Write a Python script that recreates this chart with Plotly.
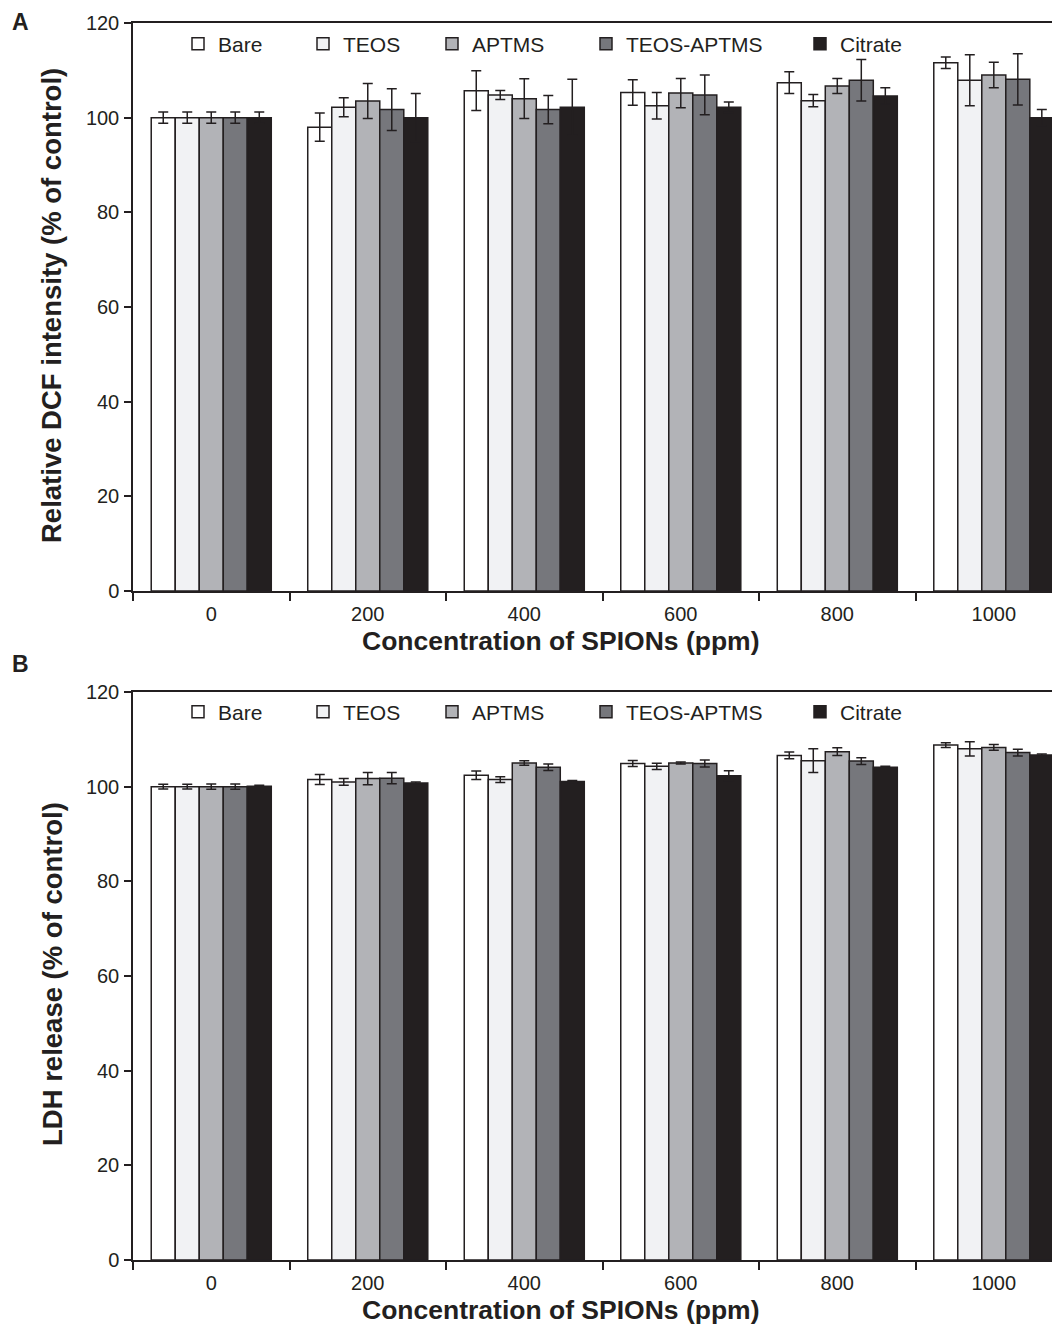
import plotly.graph_objects as go

categories = ["0", "200", "400", "600", "800", "1000"]
series_names = ["Bare", "TEOS", "APTMS", "TEOS-APTMS", "Citrate"]
colors = ["#ffffff", "#f1f2f4", "#b2b3b7", "#76777c", "#231f20"]

# Panel A: Relative DCF intensity (% of control)
dcf_bare = [100.0, 98.0, 105.7, 105.3, 107.4, 111.6]
dcf_teos = [100.0, 102.2, 104.8, 102.5, 103.6, 107.9]
dcf_aptms = [100.0, 103.5, 104.0, 105.2, 106.7, 109.0]
dcf_teos_aptms = [100.0, 101.7, 101.7, 104.8, 107.9, 108.1]
dcf_citrate = [100.0, 100.0, 102.2, 102.2, 104.6, 100.0]
dcf_bare_err = [1.2, 3.0, 4.2, 2.7, 2.3, 1.2]
dcf_teos_err = [1.2, 2.0, 0.95, 2.8, 1.3, 5.4]
dcf_aptms_err = [1.2, 3.7, 4.2, 3.1, 1.6, 2.7]
dcf_teos_aptms_err = [1.2, 4.4, 3.0, 4.2, 4.4, 5.4]
dcf_citrate_err = [1.2, 5.1, 5.9, 1.1, 1.7, 1.7]

# Panel B: LDH release (% of control)
ldh_bare = [100.0, 101.5, 102.4, 104.9, 106.6, 108.8]
ldh_teos = [100.0, 101.0, 101.5, 104.3, 105.5, 108.0]
ldh_aptms = [100.0, 101.7, 105.0, 105.0, 107.4, 108.3]
ldh_teos_aptms = [100.0, 101.8, 104.1, 104.9, 105.4, 107.2]
ldh_citrate = [100.1, 100.8, 101.1, 102.3, 104.1, 106.7]
ldh_bare_err = [0.5, 1.05, 0.9, 0.65, 0.7, 0.5]
ldh_teos_err = [0.5, 0.7, 0.6, 0.65, 2.5, 1.5]
ldh_aptms_err = [0.55, 1.3, 0.5, 0.2, 0.8, 0.6]
ldh_teos_aptms_err = [0.55, 1.2, 0.7, 0.75, 0.7, 0.7]
ldh_citrate_err = [0.2, 0.2, 0.2, 1.05, 0.2, 0.2]

y_ticks = [0, 20, 40, 60, 80, 100, 120]
y_title_a = "Relative DCF intensity (% of control)"
y_title_b = "LDH release (% of control)"
x_title = "Concentration of SPIONs (ppm)"

dcf_vals = [dcf_bare, dcf_teos, dcf_aptms, dcf_teos_aptms, dcf_citrate]
dcf_errs = [dcf_bare_err, dcf_teos_err, dcf_aptms_err, dcf_teos_aptms_err, dcf_citrate_err]
ldh_vals = [ldh_bare, ldh_teos, ldh_aptms, ldh_teos_aptms, ldh_citrate]
ldh_errs = [ldh_bare_err, ldh_teos_err, ldh_aptms_err, ldh_teos_aptms_err, ldh_citrate_err]

INK = "#231f20"
FONT = "Liberation Sans, Arial, sans-serif"

OFF = 8  # page body margin offset
W, H = 1052, 1320
ML, MR, MT, MB = 125, 0, 15, 68
PW = W - ML - MR
PH = H - MT - MB


def px_x(p):
    # screen pixel -> paper x
    return (p - OFF - ML) / PW


def px_y(p):
    # screen pixel -> paper y
    return (H - MB - (p - OFF)) / PH


fig = go.Figure()

legend_centers = [198, 323, 452, 606, 820]  # symbol centers (screen px)

for i, name in enumerate(series_names):
    fig.add_trace(go.Bar(
        x=categories, y=dcf_vals[i], name=name,
        marker=dict(color=colors[i], line=dict(color=INK, width=1.5)),
        error_y=dict(type="data", array=dcf_errs[i], color=INK, thickness=1.5, width=5),
        xaxis="x", yaxis="y",
        legend="legend" if i == 0 else f"legend{i + 1}",
        showlegend=True,
    ))
for i, name in enumerate(series_names):
    fig.add_trace(go.Bar(
        x=categories, y=ldh_vals[i], name=name,
        marker=dict(color=colors[i], line=dict(color=INK, width=1.5)),
        error_y=dict(type="data", array=ldh_errs[i], color=INK, thickness=1.5, width=5),
        xaxis="x2", yaxis="y2",
        legend=f"legend{i + 6}",
        showlegend=True,
    ))

legend_font = dict(family=FONT, size=21, color=INK)
legends = {}
for i in range(10):
    key = "legend" if i == 0 else f"legend{i + 1}"
    cx = legend_centers[i % 5]
    cy = 44 if i < 5 else 712
    legends[key] = dict(
        x=px_x(cx - 20), xanchor="left", xref="paper",
        y=px_y(cy), yanchor="middle", yref="paper",
        orientation="h", font=legend_font, bgcolor="rgba(0,0,0,0)",
        borderwidth=0, visible=True,
    )

a_bottom = px_y(591)
a_top = px_y(23)
b_top = px_y(692)
b_bottom = px_y(1260)

xaxis_common = dict(
    type="category", range=[-0.5, 5.423],
    showline=True, linecolor=INK, linewidth=1.5, mirror=True,
    ticks="outside", tickson="boundaries", ticklen=8, tickwidth=1.5, tickcolor=INK,
    tickfont=dict(family=FONT, size=20, color=INK), ticklabelstandoff=4,
    showgrid=False, zeroline=False, domain=[0, 1],
)
yaxis_common = dict(
    range=[0, 120], tickvals=y_ticks,
    showline=True, linecolor=INK, linewidth=1.5,
    ticks="outside", ticklen=7, tickwidth=1.5, tickcolor=INK,
    tickfont=dict(family=FONT, size=20, color=INK), ticklabelstandoff=1,
    showgrid=False, zeroline=False,
)

fig.update_layout(
    width=W, height=H,
    margin=dict(l=ML, r=MR, t=MT, b=MB),
    paper_bgcolor="white", plot_bgcolor="white",
    showlegend=True,
    barmode="group", bargap=0.233, bargroupgap=0,
    font=dict(family=FONT, color=INK),
    xaxis=dict(xaxis_common, anchor="y"),
    yaxis=dict(yaxis_common, domain=[a_bottom, min(1, a_top)], anchor="x"),
    xaxis2=dict(xaxis_common, anchor="y2"),
    yaxis2=dict(yaxis_common, domain=[max(0, b_bottom), b_top], anchor="x2"),
    **legends,
)

annotations = [
    dict(text="<b>A</b>", x=px_x(10), y=px_y(22), xanchor="left", yanchor="middle",
         font=dict(family=FONT, size=23, color=INK)),
    dict(text="<b>B</b>", x=px_x(10), y=px_y(664), xanchor="left", yanchor="middle",
         font=dict(family=FONT, size=23, color=INK)),
    dict(text=f"<b>{x_title}</b>", x=px_x(561), y=px_y(641), xanchor="center", yanchor="middle",
         font=dict(family=FONT, size=26.5, color=INK)),
    dict(text=f"<b>{x_title}</b>", x=px_x(561), y=px_y(1310), xanchor="center", yanchor="middle",
         font=dict(family=FONT, size=26.5, color=INK)),
    dict(text=f"<b>{y_title_a}</b>", x=px_x(52), y=px_y(306), xanchor="center", yanchor="middle",
         textangle=-90, font=dict(family=FONT, size=27.5, color=INK)),
    dict(text=f"<b>{y_title_b}</b>", x=px_x(52), y=px_y(974), xanchor="center", yanchor="middle",
         textangle=-90, font=dict(family=FONT, size=27.5, color=INK)),
]
for a in annotations:
    a.update(xref="paper", yref="paper", showarrow=False)
fig.update_layout(annotations=annotations)

fig.write_html("out.html")
